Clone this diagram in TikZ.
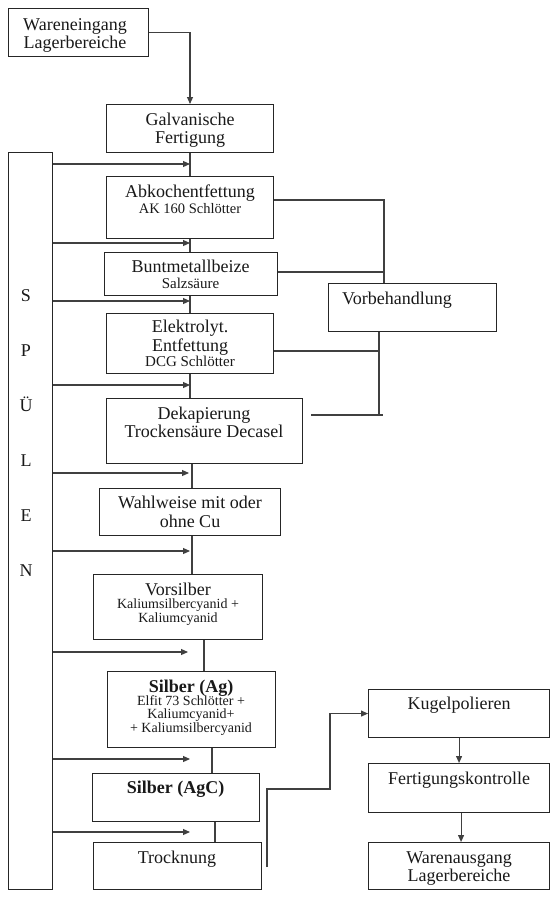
\documentclass[tikz,border=0pt]{standalone}
\usepackage{fontspec}
\setmainfont{Liberation Serif}
\usetikzlibrary{arrows.meta}
\newcommand{\myfs}[1]{\fontsize{#1}{#1}\selectfont}
\lineskiplimit=-100pt
\begin{document}
\begin{tikzpicture}[x=1pt,y=-1pt,
 box/.style={draw=black!85, line width=1.1pt, inner sep=0pt, anchor=north west},
 txt/.style={anchor=north, inner sep=0pt, align=center, text=black!90},
 conn/.style={draw=black!75, line width=1.1pt},
 arr/.style={conn, -{Triangle[length=7pt,width=6pt]}},
]
\useasboundingbox (0,0) rectangle (559,900);
\fill[white] (0,0) rectangle (559,900);

% boxes
\node[box, minimum width=140pt, minimum height=48pt] (win) at (8,8) {};
\node[box, minimum width=167pt, minimum height=48pt] (galv) at (106,104) {};
\node[box, minimum width=44pt, minimum height=737pt] (spu) at (8,152) {};
\node[box, minimum width=167pt, minimum height=62pt] (abk) at (106,176) {};
\node[box, minimum width=173pt, minimum height=43pt] (bunt) at (104,252) {};
\node[box, minimum width=167pt, minimum height=60pt] (elek) at (106,313) {};
\node[box, minimum width=196pt, minimum height=65pt] (dek) at (106,398) {};
\node[box, minimum width=181pt, minimum height=47pt] (wahl) at (99,488) {};
\node[box, minimum width=169pt, minimum height=65pt] (vors) at (93,574) {};
\node[box, minimum width=168pt, minimum height=76pt] (ag) at (107,671) {};
\node[box, minimum width=167pt, minimum height=48pt] (agc) at (92,773) {};
\node[box, minimum width=168pt, minimum height=47pt] (troc) at (93,842) {};
\node[box, minimum width=168pt, minimum height=48pt] (vorb) at (328,283) {};
\node[box, minimum width=181pt, minimum height=48pt] (kug) at (368,689) {};
\node[box, minimum width=181pt, minimum height=49pt] (fert) at (368,763) {};
\node[box, minimum width=181pt, minimum height=47pt] (wout) at (368,842) {};

% texts
\node[txt, font=\fontsize{18}{18}\selectfont] (twin) at (75,14) {\rule{0pt}{16pt}Wareneingang\\Lagerbereiche};
\node[txt, font=\fontsize{18}{18}\selectfont] (tgalv) at (190,109) {\rule{0pt}{16pt}Galvanische\\Fertigung};
\node[txt, font=\fontsize{18}{16}\selectfont] (tabk) at (190,181) {\rule{0pt}{16pt}Abkochentfettung\\{\myfs{14.5}AK 160 Schlötter}};
\node[txt, font=\fontsize{18}{16}\selectfont] (tbunt) at (190.5,256) {\rule{0pt}{16pt}Buntmetallbeize\\{\myfs{15}Salzsäure}};
\node[txt, font=\fontsize{18}{15}\selectfont] (telek) at (190,316) {\rule{0pt}{16pt}Elektrolyt.\\[4pt]Entfettung\\{\myfs{15}DCG Schlötter}};
\node[txt, font=\fontsize{18}{18}\selectfont] (tdek) at (204,403) {\rule{0pt}{16pt}Dekapierung\\Trockensäure Decasel};
\node[txt, font=\fontsize{18}{19}\selectfont] (twahl) at (190,492) {\rule{0pt}{16pt}Wahlweise mit oder\\ohne Cu};
\node[txt, font=\fontsize{18}{13.5}\selectfont] (tvors) at (178,579) {\rule{0pt}{16pt}Vorsilber\\{\myfs{14}Kaliumsilbercyanid +}\\{\myfs{14}Kaliumcyanid}};
\node[txt, font=\fontsize{18}{13.3}\selectfont] (tag) at (191,676) {\rule{0pt}{16pt}\textbf{Silber (Ag)}\\{\myfs{14}Elfit 73 Schlötter +}\\{\myfs{14}Kaliumcyanid+}\\{\myfs{14}+ Kaliumsilbercyanid}};
\node[txt, font=\fontsize{18}{18}\selectfont] (tagc) at (175.5,777) {\rule{0pt}{16pt}\textbf{Silber (AgC)}};
\node[txt, font=\fontsize{18}{18}\selectfont] (ttroc) at (177,847) {\rule{0pt}{16pt}Trocknung};
\node[txt, anchor=north west, font=\fontsize{18}{18}\selectfont] (tvorb) at (342,288) {\rule{0pt}{16pt}Vorbehandlung};
\node[txt, font=\fontsize{18}{18}\selectfont] (tkug) at (459,693) {\rule{0pt}{16pt}Kugelpolieren};
\node[txt, font=\fontsize{18}{18}\selectfont] (tfert) at (459,768) {\rule{0pt}{16pt}Fertigungskontrolle};
\node[txt, font=\fontsize{18}{18}\selectfont] (twout) at (459,847) {\rule{0pt}{16pt}Warenausgang\\Lagerbereiche};
\node[txt, font=\fontsize{18}{55}\selectfont] (tspu) at (26,285) {\rule{0pt}{16pt}S\\P\\Ü\\L\\E\\N};

% main flow
\coordinate (vx0) at (190,0);
\coordinate (vx1) at (192,0);
\coordinate (vx2) at (204,0);
\coordinate (vx3) at (212,0);
\coordinate (vx4) at (215,0);
\draw[arr] (win.east) -| (galv.north -| vx0);
\draw[conn] (galv.south -| vx0) -- (abk.north -| vx0);
\draw[conn] (abk.south -| vx0) -- (bunt.north -| vx0);
\draw[conn] (bunt.south -| vx0) -- (elek.north -| vx0);
\draw[conn] (elek.south -| vx0) -- (dek.north -| vx0);
\draw[conn] (dek.south -| vx1) -- (wahl.north -| vx1);
\draw[conn] (wahl.south -| vx1) -- (vors.north -| vx1);
\draw[conn] (vors.south -| vx2) -- (ag.north -| vx2);
\draw[conn] (ag.south -| vx3) -- (agc.north -| vx3);
\draw[conn] (agc.south -| vx4) -- (troc.north -| vx4);

% rinsing arrows
\coordinate (r1) at (190,164);
\coordinate (r2) at (190,243);
\coordinate (r3) at (190,301);
\coordinate (r4) at (190,385);
\coordinate (r5) at (189,473);
\coordinate (r6) at (190,551);
\coordinate (r7) at (188,652);
\coordinate (r8) at (190,759);
\coordinate (r9) at (190,832);
\foreach \n in {1,...,9} \draw[arr] (spu.east |- r\n) -- (r\n);

% Vorbehandlung bracket
\coordinate (vb1) at (384,200);
\draw[conn] (abk.east |- vb1) -- (vb1) -- (vorb.north -| vb1);
\coordinate (vb2) at (384,272);
\draw[conn] (bunt.east |- vb2) -- (vb2);
\coordinate (vb3) at (379,351);
\draw[conn] (elek.east |- vb3) -- (vb3);
\coordinate (vb4) at (379,415);
\draw[conn] (vorb.south -| vb4) -- (vb4);
\coordinate (vb5) at (383,415);
\draw[conn, shorten <=8pt] (dek.east |- vb5) -- (vb5);

% finishing
\coordinate (k1) at (267,867);
\coordinate (k2) at (330,789);
\draw[arr] (k1) |- (k2) |- (kug.west);
\draw[arr] (kug.south) -- (fert.north);
\draw[arr] ([xshift=2pt]fert.south) -- ([xshift=2pt]wout.north);
\end{tikzpicture}
\end{document}
